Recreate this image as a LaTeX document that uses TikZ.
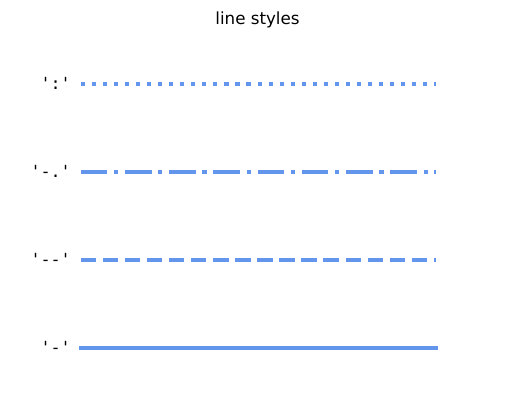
\documentclass[tikz,border=0pt]{standalone}
\usepackage{fontspec}
\setmainfont{DejaVu Sans}
\setmonofont{DejaVu Sans Mono}
\definecolor{cornflower}{HTML}{6495ED}
\tikzset{
  ls/.style={draw=cornflower, line width=4.17bp},
  lbl/.style={anchor=base east, inner sep=0pt, font=\fontsize{16.7bp}{20bp}\selectfont\ttfamily},
  ttl/.style={anchor=base, inner sep=0pt, font=\fontsize{16.7bp}{20bp}\selectfont}
}
\begin{document}
\begin{tikzpicture}[x=1bp, y=-1bp]
\useasboundingbox (0,0) rectangle (515,411);
\node[ttl] (title) at (257.5,24) {line styles};
% labels
\node[lbl] (l1) at (71,89) {':'};
\node[lbl] (l2) at (71,177) {'-.'};
\node[lbl] (l3) at (71,265) {'--'};
\node[lbl] (l4) at (71,353) {'-'};
% line endpoints
\coordinate (a1) at (80.7,84);  \coordinate (b1) at (435.5,84);
\coordinate (a2) at (80.7,172); \coordinate (b2) at (435.5,172);
\coordinate (a3) at (80.7,260); \coordinate (b3) at (435.5,260);
\coordinate (a4) at (80.7,348); \coordinate (b4) at (435.5,348);
\draw[ls, line cap=butt, dash pattern=on 4.17bp off 6.88bp] (a1) -- (b1);
\draw[ls, line cap=butt, dash pattern=on 26.7bp off 6.67bp on 4.17bp off 6.67bp] (a2) -- (b2);
\draw[ls, line cap=butt, dash pattern=on 15.4bp off 6.67bp] (a3) -- (b3);
\draw[ls, line cap=rect] (a4) -- (b4);
\end{tikzpicture}
\end{document}
